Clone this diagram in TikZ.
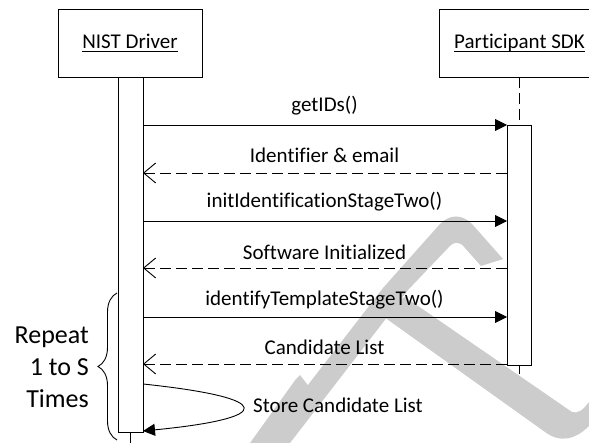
\documentclass[tikz,border=0pt]{standalone}
\usepackage{fontspec}
\setmainfont{Carlito}[Ligatures=NoCommon]
\usetikzlibrary{arrows.meta,decorations.pathreplacing}
\definecolor{wm}{RGB}{204,204,204}
\newcommand{\ulbox}[1]{\setbox0=\hbox{#1}\rlap{\rule[-2.9pt]{\wd0}{0.9pt}}\box0}
\begin{document}
\begin{tikzpicture}[x=1pt,y=-1pt,
  lbl/.style={font=\fontsize{21}{25}\selectfont, inner sep=0pt},
  actor/.style={draw, line width=0.9pt, minimum width=144pt, minimum height=68pt, inner sep=0pt, font=\fontsize{21}{25}\selectfont},
  bar/.style={draw, fill=white, line width=0.9pt, inner sep=0pt},
  call/.style={line width=0.9pt, -{Triangle[length=12pt,width=12pt]}},
  reply/.style={line width=0.9pt, dash pattern=on 11pt off 5pt, -{Straight Barb[length=12pt,width=20pt]}},
  life/.style={line width=0.9pt, dash pattern=on 11pt off 5pt},
  wmark/.style={fill=wm, draw=none}
]
\useasboundingbox (0,0) rectangle (589,443);
% watermark
\fill[wmark] (263,443) -- (383,288) -- (440,224) .. controls (450,214) and (462,214) .. (472,224) -- (503,259) -- (481,266) -- (465,248) .. controls (460,241) and (454,241) .. (448,248) -- (408,290) -- (290,443) -- cycle;
\fill[wmark] (377,312) -- (545,432) .. controls (560,443) and (575,440) .. (589,426) -- (589,402) .. controls (583,410) and (578,414) .. (572,412) -- (405,297) -- cycle;
\fill[wmark] (250,443) -- (296,379) -- (300,375) -- (313,392) -- (276,443) -- cycle;
% actors
\node[actor] (nbox) at (130,43) {\ulbox{NIST Driver}};
\node[actor, minimum width=161pt] (sbox) at (519.5,43) {\ulbox{Participant SDK}};
% activation bars
\node[bar, minimum width=25pt, minimum height=355pt] (nbar) at (130.5,254.5) {};
\node[bar, minimum width=24pt, minimum height=240pt] (sbar) at (519,245) {};
% lifelines
\coordinate (nend) at (130.5,445);
\coordinate (send) at (519,374);
\draw[line width=0.9pt] (nbar.south) -- (nend);
\draw[life] (sbox.south -| sbar.north) -- (sbar.north);
\draw[line width=0.9pt] (sbar.south) -- (send);
% message end points
\coordinate (m1a) at (143,125); \coordinate (m1b) at (507,125);
\coordinate (m2a) at (507,173); \coordinate (m2b) at (143,173);
\coordinate (m3a) at (143,221); \coordinate (m3b) at (507,221);
\coordinate (m4a) at (507,268); \coordinate (m4b) at (143,268);
\coordinate (m5a) at (143,317); \coordinate (m5b) at (507,317);
\coordinate (m6a) at (507,364); \coordinate (m6b) at (143,364);
\coordinate (s1) at (143,384); \coordinate (s2) at (143,431);
\draw[call] (m1a) -- (m1b);
\draw[reply] (m2a) -- (m2b);
\draw[call] (m3a) -- (m3b);
\draw[reply] (m4a) -- (m4b);
\draw[call] (m5a) -- (m5b);
\draw[reply] (m6a) -- (m6b);
\draw[call] (s1) .. controls (276,398) and (276,418) .. (s2);
% labels
\node[lbl, anchor=base] (l1) at (324.5,112) {getIDs()};
\node[lbl, anchor=base] (l2) at (324.5,163) {Identifier \& email};
\node[lbl, anchor=base] (l3) at (324.5,208) {initIdentificationStageTwo()};
\node[lbl, anchor=base] (l4) at (324.5,259.5) {Software Initialized};
\node[lbl, anchor=base] (l5) at (324.5,306) {identifyTemplateStageTwo()};
\node[lbl, anchor=base] (l6) at (324.5,355) {Candidate List};
\node[lbl, anchor=base west] (l7) at (253,413) {Store Candidate List};
% brace
\coordinate (brB) at (117,440); \coordinate (brT) at (117,293);
\draw[line width=0.9pt, decorate, decoration={brace, amplitude=19pt}] (brB) -- (brT);
\node[inner sep=0pt, align=right, anchor=base east, font=\fontsize{26}{32}\selectfont] (rep) at (89,407) {Repeat\\1 to S\\Times};
\end{tikzpicture}
\end{document}
